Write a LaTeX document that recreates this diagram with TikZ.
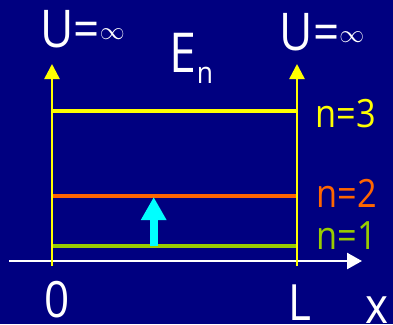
\documentclass[tikz,border=0pt]{standalone}
\usepackage{fontspec}
\setmainfont{Open Sans}
\newfontfamily\lblfont[FakeStretch=0.88]{Open Sans}
\usetikzlibrary{arrows.meta}
\definecolor{bgblue}{RGB}{0,0,128}
\definecolor{lvlyellow}{RGB}{255,255,0}
\definecolor{lvlorange}{RGB}{255,102,0}
\definecolor{lvlgreen}{RGB}{153,204,0}
\definecolor{jumpcyan}{RGB}{0,255,255}
\newcommand{\fsz}[1]{\fontsize{#1}{#1}\selectfont}
\begin{document}
\begin{tikzpicture}[x=1pt,y=-1pt,
  lbl/.style={inner sep=0pt, anchor=base, text=white, font=\lblfont\fsz{50}},
  nlbl/.style={inner sep=0pt, anchor=base, font=\lblfont\fsz{39}},
  wall/.style={draw=lvlyellow, line width=2.5pt, -{Triangle[length=15pt,width=15pt]}},
  axisline/.style={draw=white, line width=2.5pt, -{Triangle[length=15pt,width=16pt]}},
  level/.style={line width=3.5pt},
  jump/.style={draw=jumpcyan, line width=8pt, -{Triangle[length=23pt,width=24pt]}}]
\fill[bgblue] (0,0) rectangle (393,324);
\useasboundingbox (0,0) rectangle (393,324);
% coordinates
\coordinate (wl0) at (52,266);
\coordinate (wl1) at (52,64);
\coordinate (wr0) at (297,266);
\coordinate (wr1) at (297,64);
\coordinate (ax0) at (9,261);
\coordinate (ax1) at (362,261);
\coordinate (l3a) at (52,111);
\coordinate (l3b) at (297,111);
\coordinate (l2a) at (52,196);
\coordinate (l2b) at (297,196);
\coordinate (l1a) at (52,246);
\coordinate (l1b) at (297,246);
\coordinate (j0) at (153.7,246);
\coordinate (j1) at (153.7,197);
% levels
\draw[level, lvlyellow] (l3a) -- (l3b);
\draw[level, lvlorange] (l2a) -- (l2b);
\draw[level, lvlgreen] (l1a) -- (l1b);
% axis and walls
\draw[axisline] (ax0) -- (ax1);
\draw[wall] (wl0) -- (wl1);
\draw[wall] (wr0) -- (wr1);
% transition
\draw[jump] (j0) -- (j1);
% labels
\node[lbl, font=\lblfont\fsz{52}] (ul) at (82.5,47) {U=\raisebox{8pt}{\fsz{43}$\infty$}};
\node[lbl, font=\lblfont\fsz{52}] (ur) at (322,50) {U=\raisebox{8pt}{\fsz{43}$\infty$}};
\node[lbl, font=\lblfont\fsz{55}] (en) at (191.5,72) {E\raisebox{-11pt}{\fsz{30}n}};
\node[nlbl, text=lvlyellow] (n3) at (346,127) {n=3};
\node[nlbl, text=lvlorange] (n2) at (346.5,207) {n=2};
\node[nlbl, text=lvlgreen] (n1) at (346.5,249) {n=1};
\node[lbl] (zero) at (57.5,317) {0};
\node[lbl, anchor=base west] (ell) at (288,320) {L};
\node[lbl] (xl) at (377.5,323) {x};
\end{tikzpicture}
\end{document}
